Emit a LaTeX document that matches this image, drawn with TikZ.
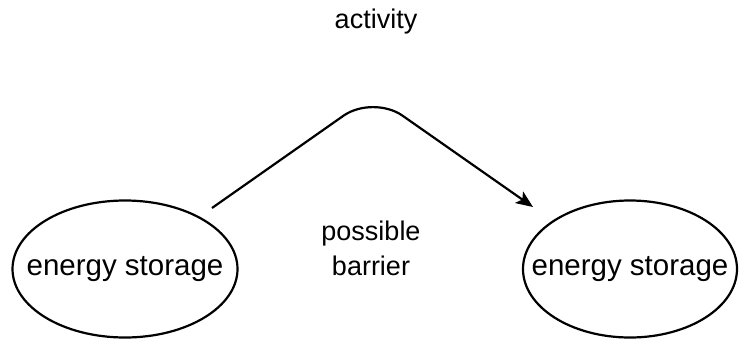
\documentclass[tikz,border=0pt]{standalone}
\usepackage{fontspec}
\setmainfont{Liberation Sans}
\usetikzlibrary{shapes.geometric,arrows.meta}
\begin{document}
\begin{tikzpicture}[x=1pt,y=-1pt,
  store/.style={ellipse,draw,line width=2.2pt,minimum width=#1,minimum height=137pt,inner sep=0pt,
    font=\fontsize{29.5}{34}\selectfont},
  lbl/.style={align=center,font=\fontsize{27}{35}\selectfont},
  link/.style={line width=2.2pt,rounded corners=36pt,-{Stealth[length=17pt,width=14pt,inset=4pt]}}]
\useasboundingbox (0,0) rectangle (739,341);
\node[store=225pt] (s1) at (125,269) {\makebox[0pt]{energy storage}};
\node[store=214pt] (s2) at (630,269) {\makebox[0pt]{energy storage}};
\node[lbl] (act) at (376,22) {activity};
\node[lbl] (bar) at (371,248) {possible\\barrier};
\coordinate (a) at (212,208);
\coordinate (p) at (373,95);
\coordinate (b) at (533,207);
\draw[link] (a) -- (p) -- (b);
\end{tikzpicture}
\end{document}
